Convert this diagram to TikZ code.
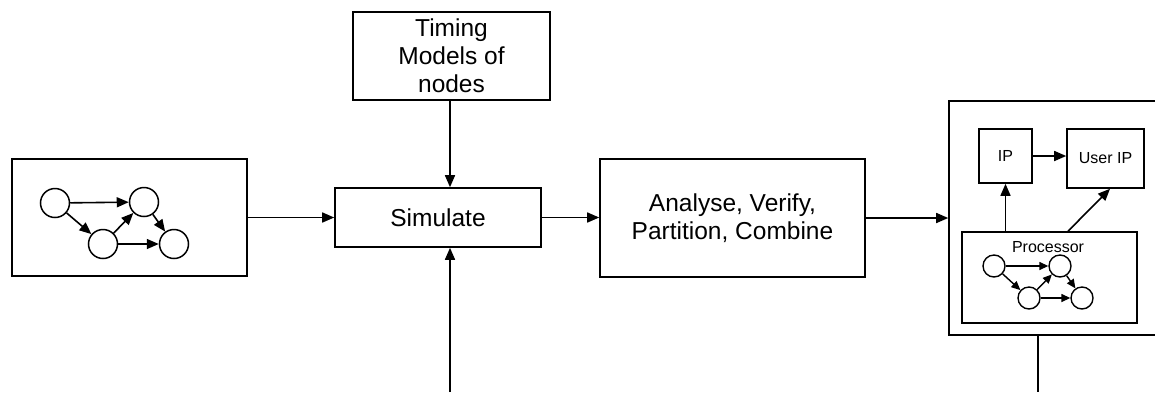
\documentclass[tikz,border=0pt]{standalone}
\usepackage{fontspec}
\setmainfont{Liberation Sans}
\usetikzlibrary{arrows.meta}
\begin{document}
\begin{tikzpicture}[x=1pt,y=-1pt,
  box/.style={draw, line width=1.6pt, inner sep=0pt, align=center},
  bigtxt/.style={font=\fontsize{24.5}{28}\selectfont},
  smalltxt/.style={font=\fontsize{16}{19}\selectfont},
  circ/.style={draw, circle, line width=1.5pt, inner sep=0pt, minimum size=29pt},
  scirc/.style={draw, circle, line width=1.4pt, inner sep=0pt, minimum size=22pt},
  conn/.style={line width=1.6pt, -{Triangle[length=12pt,width=10pt]}},
  sconn/.style={line width=1.4pt, -{Triangle[length=9pt,width=8pt]}},
  plain/.style={line width=1.6pt}]
\clip (0,0) rectangle (1155,392);
% boxes
\node[box, minimum width=235pt, minimum height=117pt] (src) at (129.5,217.5) {};
\node[box, bigtxt, minimum width=206pt, minimum height=59pt] (sim) at (438,217.5) {Simulate};
\node[box, bigtxt, minimum width=197pt, minimum height=88pt] (tim) at (451.5,56) {Timing\\Models of\\nodes};
\node[box, bigtxt, minimum width=265pt, minimum height=118pt] (ana) at (732.5,218) {Analyse, Verify,\\Partition, Combine};
\node[box, minimum width=216pt, minimum height=234pt] (big) at (1057,218) {};
\node[box, smalltxt, minimum width=53pt, minimum height=54pt] (ip) at (1005.5,156) {IP};
\node[box, smalltxt, minimum width=77pt, minimum height=59pt] (uip) at (1105.5,158.5) {User IP};
\node[box, minimum width=175pt, minimum height=91pt] (proc) at (1049.5,277.5) {};
\node[smalltxt, inner sep=0pt] (proclbl) at (1048,247) {Processor};
% graph in source box
\node[circ] (a1) at (55,203) {};
\node[circ] (a2) at (144,202) {};
\node[circ] (a3) at (103,244) {};
\node[circ] (a4) at (174,244) {};
\draw[conn] (a1) -- (a2);
\draw[conn] (a1) -- (a3);
\draw[conn] (a3) -- (a2);
\draw[conn] (a3.east) -- (a3.east -| a4.west);
\draw[conn] (a2) -- (a4);
% graph in processor
\node[scirc] (b1) at (994,266) {};
\node[scirc] (b2) at (1060,266) {};
\node[scirc] (b3) at (1029,298) {};
\node[scirc] (b4) at (1082,298) {};
\draw[sconn] (b1) -- (b2);
\draw[sconn] (b1) -- (b3);
\draw[sconn] (b3) -- (b2);
\draw[sconn] (b3.east) -- (b3.east -| b4.west);
\draw[sconn] (b2) -- (b4);
% connectors
\coordinate (simin) at (450,392);
\coordinate (bigout) at (1038,392);
\draw[conn] (src.east) -- (sim.west);
\draw[conn] (tim.south -| simin) -- (sim.north -| simin);
\draw[conn] (simin) -- (simin |- sim.south);
\draw[conn] (sim.east) -- (sim.east -| ana.west);
\draw[conn] (ana.east) -- (big.west);
\draw[plain] (bigout |- big.south) -- (bigout);
\draw[conn] (ip.east) -- (ip.east -| uip.west);
\draw[conn] (proc.north -| ip) -- (ip.south);
\draw[conn] ([xshift=18.5pt]proc.north) -- ([xshift=4.5pt]uip.south);
\end{tikzpicture}
\end{document}
